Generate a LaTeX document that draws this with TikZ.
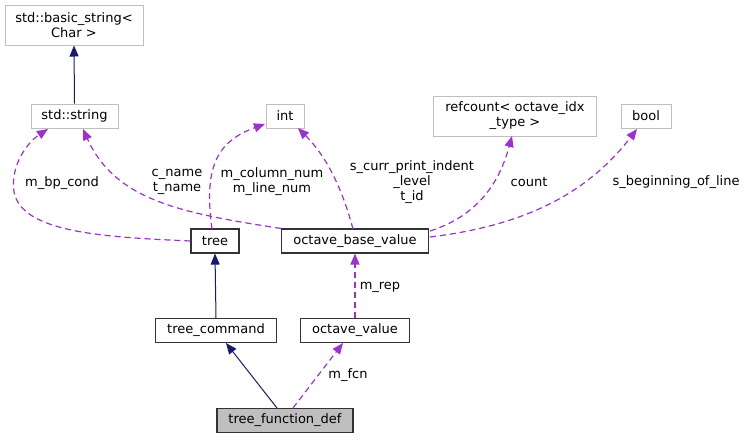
\documentclass[tikz,border=0pt]{standalone}
\usepackage{fontspec}
\setmainfont{DejaVu Sans}
\usetikzlibrary{arrows.meta}

\definecolor{inhcol}{HTML}{191970}
\definecolor{usecol}{HTML}{9A32CD}
\definecolor{extcol}{HTML}{BFBFBF}

\begin{document}
\begin{tikzpicture}[
  x=1pt, y=-1pt,
  font=\fontsize{13}{15}\selectfont,
  cls/.style   = {draw=black!80, line width=1.1pt, inner sep=0pt, minimum height=24pt},
  ext/.style   = {draw=extcol, line width=1pt, inner sep=0pt, minimum height=24pt, align=center},
  self/.style  = {cls, fill=extcol},
  inh/.style   = {draw=inhcol, line width=1pt, -{Triangle[length=11pt, width=9pt]}},
  use/.style   = {draw=usecol, line width=1.2pt, dash pattern=on 6pt off 4pt,
                  -{Triangle[length=11pt, width=9pt, fill=usecol]}},
  lbl/.style   = {inner sep=0pt, align=center},
]
  \useasboundingbox (0,0) rectangle (747,440);

  \node[ext, minimum width=138pt, minimum height=40pt] (bstr)  at (74,25)   {std::basic\_string<\\Char >};
  \node[ext, minimum width=87pt]                      (str)   at (74.5,116) {std::string};
  \node[ext, minimum width=38pt]                      (int)   at (285,116)  {int};
  \node[ext, minimum width=163pt, minimum height=40pt] (rc)   at (515,116)  {refcount< octave\_idx\\\_type >};
  \node[ext, minimum width=50pt]                      (bool)  at (646,116)  {bool};
  \node[cls, minimum width=48pt]                      (tree)  at (215,241)  {tree};
  \node[cls, minimum width=147pt]                     (obv)   at (355,241)  {octave\_base\_value};
  \node[cls, minimum width=121pt]                     (tcmd)  at (216,330.5) {tree\_command};
  \node[cls, minimum width=109pt]                     (oval)  at (355,330.5) {octave\_value};
  \node[self, minimum width=136pt]                    (tfd)   at (285,420.5) {tree\_function\_def};

  % inheritance
  \draw[inh] (str.north)  -- (bstr.south);
  \draw[inh] (tcmd.north) -- (tree.south);
  \draw[inh] (277,408)    -- (226,343);

  % members
  \draw[use] (tree.west) .. controls (100,237) and (22,232) .. (14,192)
                         .. controls (10,165) and (28,142) .. (48,129);
  \draw[use] (obv.north west) .. controls (180,213) and (115,200) .. (83,129);
  \draw[use] (212,229) .. controls (204,170) and (215,142) .. (265,124);
  \draw[use] (353,229) .. controls (340,180) and (322,152) .. (298,128);
  \draw[use] (430,231) .. controls (480,215) and (500,180) .. (512,136);
  \draw[use] (430,237) .. controls (530,225) and (590,190) .. (637,129);
  \draw[use] (oval.north) -- (obv.south);
  \draw[use] (293,408) -- (343,343);

  \node[lbl] (l1) at (62,183)  {m\_bp\_cond};
  \node[lbl] (l2) at (177,182) {c\_name\\t\_name};
  \node[lbl] (l3) at (272,182) {m\_column\_num\\m\_line\_num};
  \node[lbl] (l4) at (412,182) {s\_curr\_print\_indent\\\_level\\t\_id};
  \node[lbl] (l5) at (529,182) {count};
  \node[lbl] (l6) at (676,182) {s\_beginning\_of\_line};
  \node[lbl] (l7) at (380,287) {m\_rep};
  \node[lbl] (l8) at (348,375) {m\_fcn};
\end{tikzpicture}
\end{document}
